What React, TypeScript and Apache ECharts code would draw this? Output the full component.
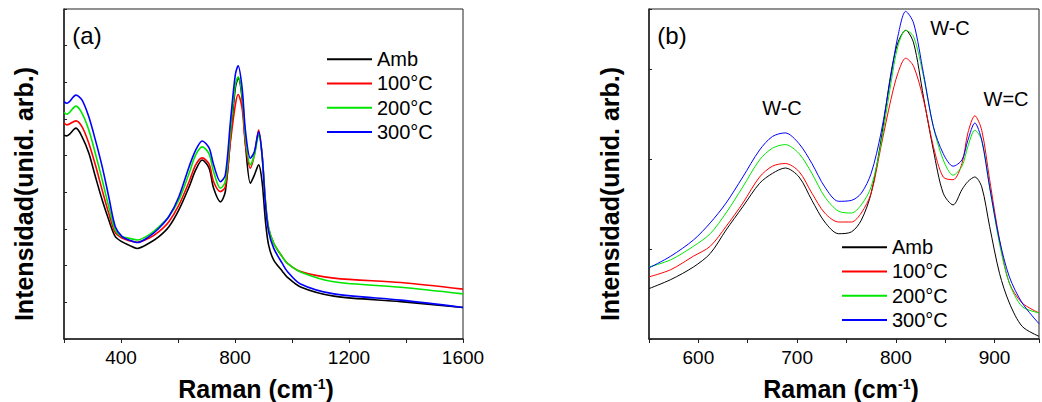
import React, { useEffect, useRef } from 'react';
import * as echarts from 'echarts';

const FONT = '"Liberation Sans", Arial, Helvetica, sans-serif';

const seriesNames = ['Amb', '100°C', '200°C', '300°C'];
const seriesColors = ['#000000', '#ff0000', '#00e600', '#0000ff'];

// Panel (a): Raman shift (cm-1) and intensities (arb. units)
const ramanA = [200, 210, 242, 263, 287, 310, 334, 357, 380, 404, 428, 457, 498, 533, 568, 603, 639, 662, 685, 709, 725, 749, 766, 784, 801, 811, 825, 837, 854, 868, 883, 895, 907, 918, 936, 966, 983, 1030, 1147, 1382, 1600];
const ambA = [5.56, 5.54, 5.75, 5.52, 5.07, 4.43, 3.79, 3.25, 2.79, 2.65, 2.56, 2.47, 2.61, 2.79, 3.06, 3.52, 4.15, 4.61, 4.88, 4.66, 4.11, 3.74, 4.02, 5.47, 6.84, 7.11, 6.56, 5.29, 4.25, 4.47, 4.75, 4.29, 3.20, 2.56, 2.15, 1.85, 1.69, 1.42, 1.17, 1.02, 0.86];
const c100A = [5.90, 5.84, 5.95, 5.79, 5.34, 4.75, 4.06, 3.43, 2.90, 2.75, 2.68, 2.64, 2.75, 2.93, 3.20, 3.65, 4.29, 4.75, 4.94, 4.77, 4.29, 4.02, 4.15, 5.38, 6.38, 6.67, 6.29, 5.29, 4.66, 5.02, 5.70, 5.02, 3.74, 3.02, 2.61, 2.24, 2.07, 1.84, 1.66, 1.54, 1.36];
const c200A = [6.18, 6.13, 6.35, 6.16, 5.70, 5.06, 4.34, 3.61, 2.97, 2.79, 2.75, 2.70, 2.84, 3.06, 3.34, 3.79, 4.52, 5.02, 5.24, 5.05, 4.56, 4.11, 4.29, 5.65, 6.93, 7.15, 6.65, 5.47, 4.75, 5.02, 5.56, 5.02, 3.74, 3.02, 2.61, 2.24, 2.07, 1.83, 1.56, 1.41, 1.23];
const c300A = [6.47, 6.43, 6.65, 6.52, 6.06, 5.43, 4.70, 3.88, 3.06, 2.79, 2.70, 2.63, 2.79, 3.02, 3.34, 3.88, 4.70, 5.15, 5.40, 5.21, 4.75, 4.29, 4.47, 5.93, 7.20, 7.45, 6.84, 5.65, 4.93, 5.11, 5.65, 5.02, 3.65, 2.93, 2.47, 2.06, 1.85, 1.50, 1.23, 1.06, 0.86];

// Panel (b): zoom on 550-945 cm-1
const ramanB = [550, 572, 595, 612, 628, 645, 662, 675, 688, 702, 715, 728, 742, 755, 765, 775, 785, 795, 802, 810, 818, 828, 838, 848, 858, 867, 873, 880, 887, 895, 905, 915, 928, 945];
const ambB = [0.56, 0.66, 0.80, 0.95, 1.21, 1.47, 1.73, 1.84, 1.90, 1.80, 1.54, 1.30, 1.17, 1.19, 1.32, 1.62, 2.21, 2.95, 3.29, 3.43, 3.29, 2.69, 2.10, 1.62, 1.49, 1.66, 1.75, 1.80, 1.69, 1.25, 0.73, 0.40, 0.14, 0.03];
const c100B = [0.69, 0.77, 0.92, 1.03, 1.25, 1.51, 1.80, 1.92, 1.95, 1.86, 1.62, 1.40, 1.30, 1.30, 1.40, 1.62, 2.14, 2.66, 2.95, 3.12, 3.03, 2.66, 2.14, 1.80, 1.77, 1.95, 2.29, 2.48, 2.32, 1.77, 1.10, 0.62, 0.40, 0.29];
const c200B = [0.80, 0.88, 1.03, 1.17, 1.40, 1.69, 1.99, 2.12, 2.16, 2.06, 1.84, 1.58, 1.42, 1.40, 1.49, 1.69, 2.17, 2.84, 3.25, 3.43, 3.36, 2.92, 2.36, 1.99, 1.82, 1.92, 2.14, 2.32, 2.21, 1.69, 1.06, 0.62, 0.36, 0.29];
const c300B = [0.79, 0.92, 1.10, 1.29, 1.51, 1.80, 2.10, 2.25, 2.29, 2.17, 1.95, 1.69, 1.53, 1.54, 1.62, 1.84, 2.29, 2.92, 3.36, 3.64, 3.51, 2.95, 2.36, 2.06, 1.92, 1.99, 2.21, 2.40, 2.21, 1.69, 1.10, 0.69, 0.40, 0.17];

const panelLetters = ['(a)', '(b)'];
const peakLabels = ['W-C', 'W-C', 'W=C'];
const yTitle = 'Intensidad(unid. arb.)';

const AXIS_COLOR = '#222';

export default function App() {
  const ref = useRef<HTMLDivElement>(null);

  useEffect(() => {
    if (!ref.current) return;
    const chart = echarts.init(ref.current, null, { renderer: 'svg' });
    const zip = (xs: number[], ys: number[]) => xs.map((x, i) => [x, ys[i]]);
    const dataA = [ambA, c100A, c200A, c300A];
    const dataB = [ambB, c100B, c200B, c300B];

    const xAxisCommon = (min: number, max: number, interval: number, labelStep: number, gridIndex: number) => ({
      type: 'value',
      gridIndex,
      min,
      max,
      interval,
      axisLine: { show: true, lineStyle: { color: AXIS_COLOR, width: 1.5 } },
      axisTick: { show: true, inside: false, length: 4, lineStyle: { color: AXIS_COLOR, width: 1 } },
      axisLabel: {
        fontSize: 19,
        color: '#000',
        fontFamily: FONT,
        margin: 9,
        formatter: (v: number) => (Math.round(v) % labelStep === 0 ? String(Math.round(v)) : ''),
      },
      splitLine: { show: false },
    });
    const yAxisCommon = (max: number, gridIndex: number) => ({
      type: 'value',
      gridIndex,
      min: 0,
      max,
      interval: 1,
      axisLine: { show: true, lineStyle: { color: AXIS_COLOR, width: 1.5 } },
      axisTick: { show: true, inside: true, length: 3, lineStyle: { color: AXIS_COLOR, width: 1 } },
      axisLabel: { show: false },
      splitLine: { show: false },
    });

    const legendCommon = {
      orient: 'vertical',
      itemWidth: 45,
      itemHeight: 2,
      itemGap: 0,
      padding: 0,
      icon: 'rect',
      selectedMode: false,
      data: seriesNames,
      textStyle: { fontSize: 20, lineHeight: 24.3, color: '#000', fontFamily: FONT },
    };

    const xTitle = (cx: number) => ({
      type: 'text',
      x: cx,
      y: 389,
      style: {
        text: '{b|Raman (cm}{s|-1}{b|)}',
        align: 'center',
        verticalAlign: 'middle',
        rich: {
          b: { fontSize: 25, fontWeight: 'bold', fontFamily: FONT, fill: '#000', verticalAlign: 'bottom' },
          s: { fontSize: 14, fontWeight: 'bold', fontFamily: FONT, fill: '#000', verticalAlign: 'top' },
        },
      },
    });
    const yTitleEl = (cx: number) => ({
      type: 'text',
      x: cx,
      y: 194,
      rotation: Math.PI / 2,
      style: {
        text: yTitle,
        align: 'center',
        verticalAlign: 'middle',
        font: `bold 25px ${FONT}`,
        fill: '#000',
      },
    });
    const plainText = (text: string, x: number, y: number, size: number) => ({
      type: 'text',
      x,
      y,
      style: { text, align: 'center', verticalAlign: 'middle', font: `${size}px ${FONT}`, fill: '#000' },
    });

    const option = {
      animation: false,
      backgroundColor: '#ffffff',
      grid: [
        { left: 64, top: 9, width: 399, height: 330, show: true, borderColor: AXIS_COLOR, borderWidth: 1, backgroundColor: 'transparent' },
        { left: 649, top: 9, width: 396, height: 330, show: true, borderColor: AXIS_COLOR, borderWidth: 1, backgroundColor: 'transparent' },
      ],
      xAxis: [xAxisCommon(200, 1600, 200, 400, 0), xAxisCommon(550, 945, 50, 100, 1)],
      yAxis: [yAxisCommon(9, 0), yAxisCommon(3.6667, 1)],
      legend: [
        { ...legendCommon, left: 327, top: 47 },
        { ...legendCommon, left: 842, top: 235 },
      ],
      series: [
        ...seriesNames.map((name, i) => ({
          name,
          type: 'line',
          xAxisIndex: 0,
          yAxisIndex: 0,
          data: zip(ramanA, dataA[i]),
          showSymbol: false,
          smooth: 0.3,
          color: seriesColors[i],
          lineStyle: { color: seriesColors[i], width: 1.6 },
        })),
        ...seriesNames.map((name, i) => ({
          name,
          type: 'line',
          xAxisIndex: 1,
          yAxisIndex: 1,
          data: zip(ramanB, dataB[i]),
          showSymbol: false,
          smooth: 0.3,
          color: seriesColors[i],
          lineStyle: { color: seriesColors[i], width: 1 },
        })),
      ],
      graphic: [
        plainText(panelLetters[0], 87, 35, 24),
        plainText(panelLetters[1], 672, 35, 24),
        plainText(peakLabels[0], 782, 108, 20),
        plainText(peakLabels[1], 950, 28, 20),
        plainText(peakLabels[2], 1006, 99, 20),
        yTitleEl(24),
        yTitleEl(610),
        xTitle(256),
        xTitle(841),
      ],
    };

    chart.setOption(option as any);
    return () => chart.dispose();
  }, []);

  return (
    <div
      ref={ref}
      style={{ position: 'fixed', left: 0, top: 0, width: 1042, height: 402, background: '#fff' }}
    />
  );
}
